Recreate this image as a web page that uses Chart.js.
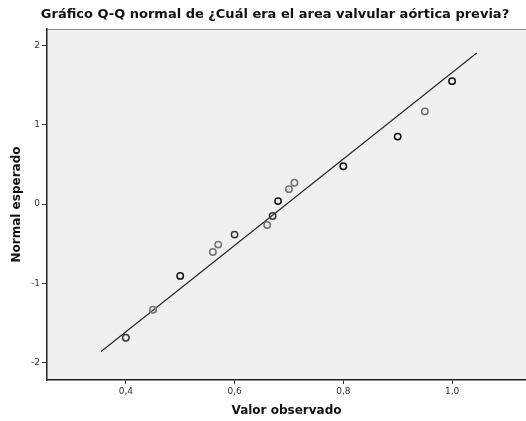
<!DOCTYPE html>
<html>
<head>
<meta charset="utf-8">
<script src="https://cdn.jsdelivr.net/npm/chart.js@4.4.1/dist/chart.umd.min.js"></script>
<style>
  html, body { margin: 0; padding: 0; background: #fff; overflow: hidden; }
  #wrap { width: 526px; height: 421px; }
  canvas { display: block; }
</style>
</head>
<body>
<div id="wrap"><canvas id="c" width="526" height="421"></canvas></div>
<script>
const observed = [0.40, 0.45, 0.50, 0.56, 0.57, 0.60, 0.66, 0.67, 0.68, 0.70, 0.71, 0.80, 0.90, 0.95, 1.00];
const expectedNormal = [-1.686, -1.333, -0.906, -0.604, -0.511, -0.385, -0.264, -0.151, 0.038, 0.189, 0.269, 0.478, 0.852, 1.170, 1.552];
// number of tied observations drawn at each point (darker circles)
const tieCounts = [2, 1, 5, 1, 1, 2, 1, 2, 3, 1, 1, 4, 4, 1, 3];
// reference line end points
const lineX = [0.3545, 1.0454];
const lineY = [-1.861, 1.908];
const xTicks = [0.4, 0.6, 0.8, 1.0];
const yTicks = [-2, -1, 0, 1, 2];

const titleText = 'Gráfico Q-Q normal de ¿Cuál era el area valvular aórtica previa?';
const xTitle = 'Valor observado';
const yTitle = 'Normal esperado';

const pointData = observed.map((x, i) => ({ x: x, y: expectedNormal[i] }));
const pointColors = tieCounts.map(c => c >= 3 ? '#111111' : (c === 2 ? '#383838' : '#727272'));
const lineData = lineX.map((x, i) => ({ x: x, y: lineY[i] }));

const areaBg = {
  id: 'areaBg',
  beforeDraw(chart) {
    const { ctx, chartArea: a } = chart;
    ctx.save();
    ctx.fillStyle = '#f0f0f0';
    ctx.fillRect(a.left, a.top, a.right - a.left, a.bottom - a.top);
    ctx.strokeStyle = '#8a8a8a';
    ctx.lineWidth = 1;
    ctx.beginPath();
    ctx.moveTo(a.left, a.top + 0.5);
    ctx.lineTo(a.right, a.top + 0.5);
    ctx.stroke();
    ctx.restore();
  },
  afterDraw(chart) {
    const { ctx } = chart;
    ctx.save();
    ctx.fillStyle = '#111';
    ctx.font = 'bold 13px "DejaVu Sans"';
    ctx.textAlign = 'center';
    ctx.textBaseline = 'middle';
    ctx.fillText(titleText, 275, 15);
    ctx.restore();
  }
};

new Chart(document.getElementById('c'), {
  data: {
    datasets: [
      {
        type: 'line',
        data: lineData,
        borderColor: '#2a2a2a',
        borderWidth: 1.2,
        pointRadius: 0,
        fill: false,
        order: 2
      },
      {
        type: 'scatter',
        data: pointData,
        pointRadius: 3.2,
        pointBorderWidth: 1.5,
        pointBorderColor: pointColors,
        pointBackgroundColor: 'rgba(0,0,0,0)',
        pointHoverRadius: 3.2,
        order: 1
      }
    ]
  },
  options: {
    responsive: false,
    animation: false,
    events: [],
    layout: { autoPadding: false, padding: { left: 0, right: 0, top: 29, bottom: 0 } },
    plugins: {
      legend: { display: false },
      tooltip: { enabled: false },
      title: { display: false }
    },
    scales: {
      x: {
        type: 'linear',
        min: 0.255,
        max: 1.136,
        afterFit(scale) { scale.height = 41; scale.paddingLeft = 0; scale.paddingRight = 0; },
        afterBuildTicks(scale) { scale.ticks = xTicks.map(v => ({ value: v })); },
        ticks: {
          color: '#333',
          font: { family: 'DejaVu Sans', size: 9 },
          padding: 2,
          maxRotation: 0,
          callback: v => v.toFixed(1).replace('.', ',')
        },
        grid: { drawOnChartArea: false, drawTicks: true, tickLength: 4, color: '#333', tickWidth: 1 },
        border: { display: true, color: '#222', width: 1.5 },
        title: {
          display: true,
          text: xTitle,
          color: '#111',
          font: { family: 'DejaVu Sans', size: 12, weight: 'bold' },
          padding: { top: 0, bottom: 3 }
        }
      },
      y: {
        type: 'linear',
        min: -2.22,
        max: 2.21,
        afterFit(scale) { scale.width = 47; scale.paddingTop = 0; scale.paddingBottom = 0; },
        afterBuildTicks(scale) { scale.ticks = yTicks.map(v => ({ value: v })); },
        ticks: {
          color: '#333',
          font: { family: 'DejaVu Sans', size: 9 },
          padding: 2,
          callback: v => String(v)
        },
        grid: { drawOnChartArea: false, drawTicks: true, tickLength: 5, color: '#333', tickWidth: 1 },
        border: { display: true, color: '#222', width: 1.5 },
        title: {
          display: true,
          text: yTitle,
          color: '#111',
          font: { family: 'DejaVu Sans', size: 12, weight: 'bold' },
          padding: { top: 10, bottom: 0 }
        }
      }
    }
  },
  plugins: [areaBg]
});
</script>
</body>
</html>
